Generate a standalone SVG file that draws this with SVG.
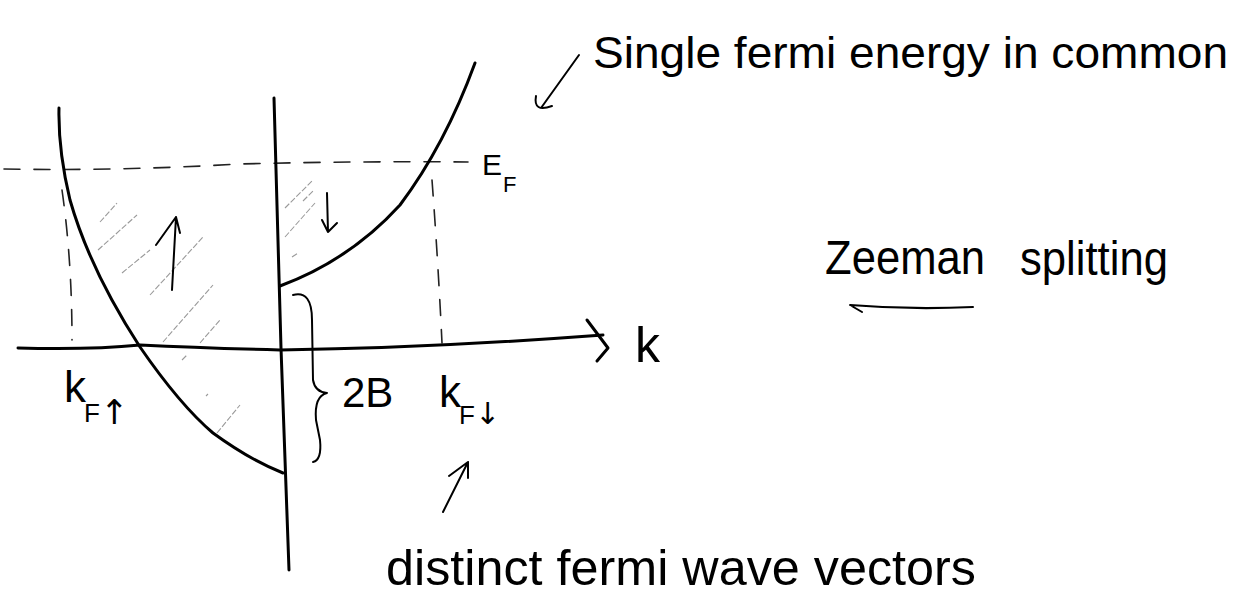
<svg xmlns="http://www.w3.org/2000/svg" width="1242" height="602" viewBox="0 0 1242 602">
<style>
.ink{fill:none;stroke:#000;stroke-width:3;stroke-linecap:round;stroke-linejoin:round}
.thin{fill:none;stroke:#000;stroke-width:2;stroke-linecap:round;stroke-linejoin:round}
.dash{fill:none;stroke:#222;stroke-width:1.6;stroke-dasharray:16 14;stroke-linecap:round}
.hatch{fill:none;stroke:#9a9a9a;stroke-width:1.1;stroke-dasharray:6 2}
.t{font-family:"Liberation Sans",Arial,sans-serif;fill:#000}
.ar{font-family:"DejaVu Sans",sans-serif;fill:#000}
</style>
<rect width="1242" height="602" fill="#fff"/>
<g id="hatching">
<path class="hatch" d="M100,222 L117,203 M98,250 L137,215 M122,273 L150,250 M150,295 L203,237 M163,342 L213,285 M200,343 L220,320 M182,360 L187,355 M206,396 L208,394 M217,433 L240,405 M285,208 L313,180 M285,237 L315,203 M292,257 L298,253 M303,201 L314,190"/>
</g>
<g id="fermi-level">
<path class="dash" d="M4,169 Q120,171 240,164 Q360,161 468,162"/>
<path class="dash" d="M62,190 Q72,260 72,340"/>
<path class="dash" d="M432,180 Q438,260 442,343"/>
</g>
<g id="axes">
<path class="ink" d="M18,348 Q90,350 140,345 Q200,348 280,350 Q430,348 603,335"/>
<path class="ink" d="M587,320 L608,348 L597,361"/>
<path class="ink" d="M274,98 L281,348 L289,570"/>
</g>
<g id="band-up">
<path class="ink" d="M59,108 Q58,150 70,200 Q90,270 140,347 Q180,405 213,433 Q250,460 283,473"/>
</g>
<g id="band-down">
<path class="ink" d="M280,286 Q350,260 400,205 Q445,145 475,63"/>
</g>
<g id="spin-arrows">
<path class="thin" d="M172,290 L176,217 M156,245 L176,217 L180,233"/>
<path class="thin" d="M327,193 L328,232 M322,220 L328,232 L337,223"/>
</g>
<g id="brace">
<path class="thin" d="M293,295 Q312,290 312,320 L313,380 Q315,392 327,393 Q314,396 316,420 L320,440 Q322,460 313,462"/>
</g>
<g id="connectors">
<path class="thin" d="M579,55 L541,108 M536,96 Q533,113 552,106"/>
<path class="thin" d="M443,512 L468,462 M449,476 L468,462 L468,478"/>
</g>
<g id="labels">
<text class="t" x="593" y="68" font-size="44" textLength="635" lengthAdjust="spacingAndGlyphs">Single fermi energy in common</text>
<text class="t" x="482" y="175" font-size="30">E</text>
<text class="t" x="503" y="192" font-size="22">F</text>
<text class="t" x="635" y="362" font-size="50">k</text>
<text class="t" x="64" y="402" font-size="44">k</text>
<text class="t" x="84" y="422" font-size="26">F</text>
<text class="ar" x="100" y="424" font-size="34">↑</text>
<text class="t" x="342" y="407" font-size="42">2B</text>
<text class="t" x="439" y="407" font-size="44">k</text>
<text class="t" x="459" y="424" font-size="26">F</text>
<text class="ar" x="475" y="424" font-size="30">↓</text>
<text class="t" x="825" y="274" font-size="48" textLength="160" lengthAdjust="spacingAndGlyphs">Zeeman</text>
<text class="t" x="1020" y="275" font-size="48" textLength="148" lengthAdjust="spacingAndGlyphs">splitting</text>
<path class="thin" d="M862,312 L850,305 Q910,310 973,307"/>
<text class="t" x="386" y="585" font-size="50" textLength="590" lengthAdjust="spacingAndGlyphs">distinct fermi wave vectors</text>
</g>
</svg>
